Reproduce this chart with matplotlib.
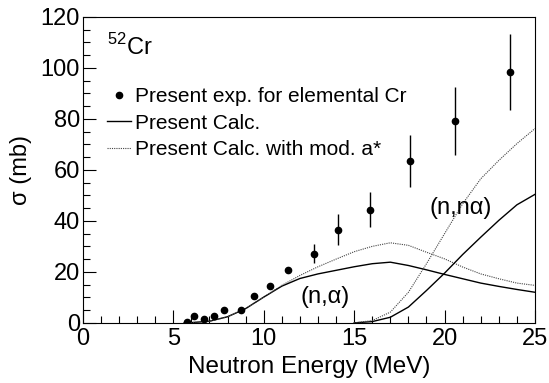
import matplotlib
matplotlib.use('Agg')
import matplotlib.pyplot as plt
from matplotlib.ticker import MultipleLocator

plt.rcParams['font.family'] = ['Liberation Sans', 'DejaVu Sans']
plt.rcParams['mathtext.fontset'] = 'custom'
plt.rcParams['mathtext.rm'] = 'Liberation Sans'

# measured points (elemental Cr)
exp_e = [5.75, 6.15, 6.7, 7.25, 7.8, 8.75, 9.45, 10.37, 11.35, 12.77, 14.1, 15.9, 18.1, 20.6, 23.6]
exp_s = [0.2, 2.6, 1.7, 2.5, 5.0, 5.0, 10.5, 14.4, 20.7, 27.1, 36.6, 44.4, 63.4, 79.3, 98.3]
exp_err = [0, 0, 0, 0, 0, 0, 0, 0, 0, 3.7, 6.2, 7.0, 10.2, 13.3, 15.0]

# (n,alpha) calculations
na_e = [5.6, 6, 7, 8, 9, 10, 11, 12, 13, 14, 15, 16, 17, 18, 19, 20, 21, 22, 23, 24, 25]
na_calc = [0, 0.1, 0.65, 2.4, 5.6, 10.1, 14.4, 17.4, 19.2, 20.6, 22.0, 23.2, 23.8, 22.5, 20.8, 19.0, 17.3, 15.6, 14.3, 13.1, 12.0]
na_mod = [0, 0.1, 0.65, 2.4, 5.6, 10.1, 14.7, 18.6, 22.0, 25.0, 27.9, 30.0, 31.4, 30.4, 27.7, 25.1, 21.9, 19.2, 17.3, 15.6, 14.7]

# (n,n alpha) calculations
nna_e = [15, 16, 17, 18, 19, 20, 21, 22, 23, 24, 25]
nna_calc = [0, 0.5, 2.2, 6.2, 12.7, 19.5, 26.8, 33.6, 40.2, 46.3, 50.4]
nna_mod = [0, 0.9, 4.2, 12.0, 23.2, 35.0, 46.7, 56.5, 63.7, 70.3, 76.2]

fig = plt.figure(figsize=(5.49, 3.83), dpi=100)
ax = fig.add_axes([0.151, 0.157, 0.8235, 0.799])

dot = (0, (1, 1))
ax.plot(na_e, na_calc, color='black', lw=1.0, label='Present Calc.')
ax.plot(na_e, na_mod, color='#444444', lw=0.8, ls=dot, label='Present Calc. with mod. a*')
ax.plot(nna_e, nna_calc, color='black', lw=1.0)
ax.plot(nna_e, nna_mod, color='#444444', lw=0.8, ls=dot)

ax.errorbar(exp_e, exp_s, yerr=exp_err, fmt='none', ecolor='black', elinewidth=1.0, capsize=0)
ax.plot(exp_e, exp_s, 'o', color='black', ms=4.5, ls='none', label='Present exp. for elemental Cr')

h, l = ax.get_legend_handles_labels()
order = [2, 0, 1]
ax.legend([h[i] for i in order], [l[i] for i in order], loc='upper left',
          bbox_to_anchor=(0.053, 0.77), frameon=False, fontsize=15,
          handlelength=1.15, handletextpad=0.2, labelspacing=0.35,
          borderpad=0, borderaxespad=0)

ax.text(1.33, 105, '$^{52}$Cr', fontsize=17, ha='left', va='baseline')
ax.text(12.06, 10.2, '(n,α)', fontsize=17, ha='left', va='center')
ax.text(19.15, 45, '(n,nα)', fontsize=17, ha='left', va='center')

ax.set_xlim(0, 25)
ax.set_ylim(0, 120)
ax.xaxis.set_major_locator(MultipleLocator(5))
ax.xaxis.set_minor_locator(MultipleLocator(1))
ax.yaxis.set_major_locator(MultipleLocator(20))
ax.yaxis.set_minor_locator(MultipleLocator(5))
ax.tick_params(which='both', direction='in', top=False, right=False, width=0.8, labelsize=17)
ax.tick_params(which='major', length=9.5, pad=2)
ax.tick_params(axis='x', which='major', pad=4)
ax.tick_params(which='minor', length=5)
for s in ax.spines.values():
    s.set_linewidth(0.8)

ax.set_xlabel('Neutron Energy (MeV)', fontsize=17.5, labelpad=4)
ax.set_ylabel('σ (mb)', fontsize=17, labelpad=6)

fig.savefig('out.png', dpi=100)
